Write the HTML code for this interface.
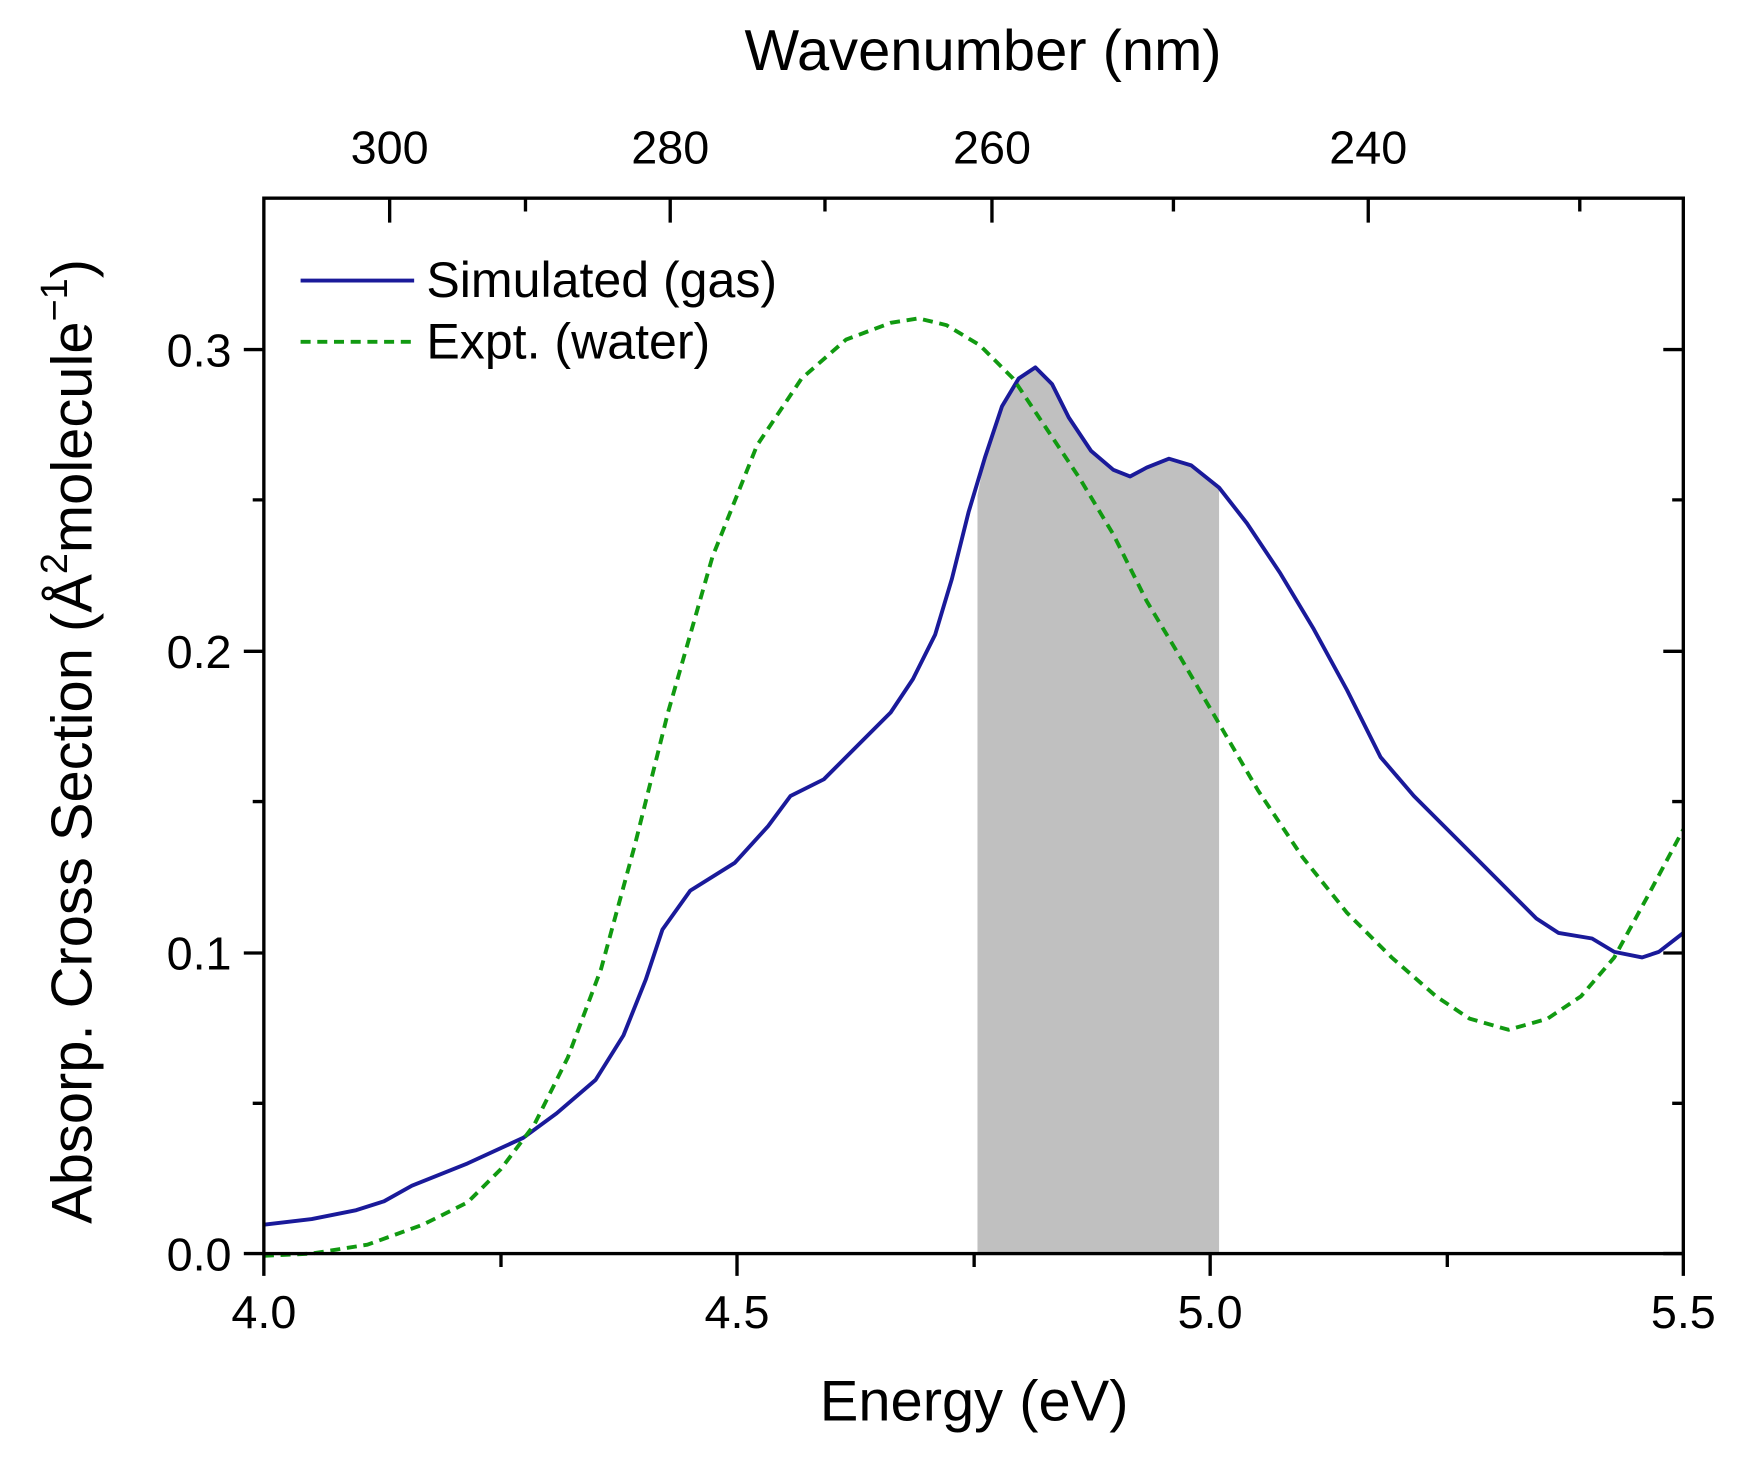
<!DOCTYPE html>
<html><head><meta charset="utf-8"><style>html,body{margin:0;padding:0;background:#fff}svg{display:block}</style></head>
<body>
<svg width="1746" height="1468" viewBox="0 0 1568.3 1318.6" preserveAspectRatio="none" xmlns="http://www.w3.org/2000/svg" font-family="Liberation Sans, Arial, sans-serif">
<rect width="1570" height="1320" fill="#fff"/>
<path d="M878,1126 L878,445 L885,410 L900,365 L915,340 L930,330 L945,345 L960,375 L980,405 L1000,422 L1015,428 L1030,420 L1050,412 L1070,418 L1095,438 L1095,1126 Z" fill="#c0c0c0"/>
<polyline fill="none" stroke="#1a1a9a" stroke-width="3.5" stroke-linejoin="round" points="237,1100 280,1095 320,1087 345,1079 370,1065 420,1045 470,1022 500,1000 535,970 560,930 580,880 595,835 620,800 660,775 690,742 710,715 740,700 770,670 800,640 820,610 840,570 855,520 870,460 885,410 900,365 915,340 930,330 945,345 960,375 980,405 1000,422 1015,428 1030,420 1050,412 1070,418 1095,438 1120,470 1150,515 1180,565 1210,620 1240,680 1270,715 1300,745 1330,775 1360,805 1380,825 1400,838 1430,843 1450,855 1475,860 1490,855 1512,838"/>
<polyline fill="none" stroke="#119a11" stroke-width="3.5" stroke-dasharray="9,6" stroke-linejoin="round" points="237,1128 280,1126 330,1118 380,1100 420,1080 450,1050 480,1010 510,950 540,870 570,760 600,640 640,500 680,400 720,340 760,305 800,290 825,286 850,292 880,310 910,340 940,385 970,430 1000,480 1030,540 1060,590 1095,650 1130,710 1170,770 1210,820 1250,860 1290,895 1320,915 1355,925 1390,915 1420,895 1450,860 1480,805 1512,745"/>
<g stroke="#000" stroke-width="3" fill="none">
<rect x="237" y="178" width="1275" height="948"/>
<path d="M237,1126v20 M662,1126v20 M1087,1126v20 M1512,1126v20 M450,1126v12 M875,1126v12 M1300,1126v12"/>
<path d="M237,1126h-18 M237,856h-18 M237,585h-18 M237,314h-18 M237,991h-10 M237,720h-10 M237,449h-10"/>
<path d="M1512,1126h-18 M1512,856h-18 M1512,585h-18 M1512,314h-18 M1512,991h-10 M1512,720h-10 M1512,449h-10"/>
<path d="M350,178v22 M602,178v22 M891,178v22 M1229,178v22 M472,178v12 M741,178v12 M1054,178v12 M1419,178v12"/>
</g>
<g font-size="42" fill="#000" text-anchor="middle">
<text x="237" y="1193">4.0</text><text x="662" y="1193">4.5</text><text x="1087" y="1193">5.0</text><text x="1512" y="1193">5.5</text>
<text x="350" y="147">300</text><text x="602" y="147">280</text><text x="891" y="147">260</text><text x="1229" y="147">240</text>
</g>
<g font-size="42" fill="#000" text-anchor="end">
<text x="208" y="1141">0.0</text><text x="208" y="871">0.1</text><text x="208" y="600">0.2</text><text x="208" y="329">0.3</text>
</g>
<text x="875" y="1276" font-size="52" text-anchor="middle">Energy (eV)</text>
<text x="883" y="63" font-size="52" text-anchor="middle">Wavenumber (nm)</text>
<text transform="translate(82,666) rotate(-90)" font-size="52" text-anchor="middle">Absorp. Cross Section (Å<tspan font-size="34" dy="-22">2</tspan><tspan dy="22">molecule</tspan><tspan font-size="34" dy="-22">−1</tspan><tspan dy="22">)</tspan></text>
<line x1="270" y1="252" x2="372" y2="252" stroke="#1a1a9a" stroke-width="3.5"/>
<line x1="270" y1="307" x2="372" y2="307" stroke="#119a11" stroke-width="3.5" stroke-dasharray="9,6"/>
<text x="383" y="267" font-size="45">Simulated (gas)</text>
<text x="383" y="322" font-size="45">Expt. (water)</text>
</svg>
</body></html>
